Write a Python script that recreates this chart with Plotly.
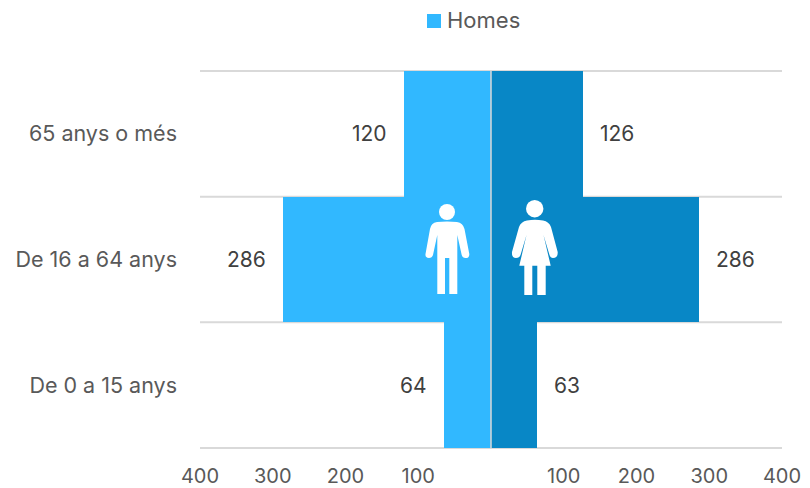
import plotly.graph_objects as go

categories = ["De 0 a 15 anys", "De 16 a 64 anys", "65 anys o més"]
homes = [64, 286, 120]
dones = [63, 286, 126]
tick_vals = [-400, -300, -200, -100, 100, 200, 300, 400]
tick_text = ["400", "300", "200", "100", "100", "200", "300", "400"]
legend_label = "Homes"

W, H = 810, 488
L, R, T, B = 200, 782, 71, 448
FONT = "Inter"
GRID = "#D9D9D9"


def px(x):
    return (x - L) / (R - L)


def py(y):
    return (B - y) / (B - T)


def path(cmds):
    out = []
    for c in cmds:
        nums = c[1:]
        pts = " ".join(f"{px(nums[i]):.5f},{py(nums[i + 1]):.5f}" for i in range(0, len(nums), 2))
        out.append(f"{c[0]} {pts}")
    return " ".join(out) + " Z"


man = [("M", 437, 222), ("Q", 447, 221, 457, 222), ("Q", 463, 223, 464.5, 229), ("L", 469.3, 254),
       ("Q", 469.5, 258, 465.5, 258), ("Q", 462.5, 258, 461.7, 255), ("L", 457.3, 235), ("L", 457.3, 294),
       ("L", 449.3, 294), ("L", 449.3, 258), ("L", 445, 258), ("L", 445, 294), ("L", 437.3, 294),
       ("L", 437.3, 235), ("L", 433, 255), ("Q", 432, 258, 429, 258), ("Q", 425, 258, 425.5, 254),
       ("L", 430, 229), ("Q", 431, 223, 437, 222)]
woman = [("M", 527, 220.5), ("Q", 535, 219, 543, 220.5), ("Q", 549, 221.5, 551, 227), ("L", 557.7, 252),
         ("Q", 558, 258, 553, 258), ("Q", 550.5, 258, 549.5, 255), ("L", 543.5, 235), ("L", 550.7, 265.7),
         ("L", 545.7, 265.7), ("L", 545.7, 295), ("L", 537.3, 295), ("L", 537.3, 265.7), ("L", 532.3, 265.7),
         ("L", 532.3, 295), ("L", 524.3, 295), ("L", 524.3, 265.7), ("L", 519.3, 265.7), ("L", 526.5, 235),
         ("L", 520.5, 255), ("Q", 519.5, 258, 516, 258), ("Q", 511.5, 258, 512, 252), ("L", 519, 227),
         ("Q", 521, 221.5, 527, 220.5)]

fig = go.Figure()
fig.add_trace(go.Bar(y=categories, x=[-v for v in homes], orientation="h", name="Homes", showlegend=False,
                     marker=dict(color="#31B8FF", line_width=0), hoverinfo="skip"))
fig.add_trace(go.Bar(y=categories, x=dones, orientation="h", name="Dones", showlegend=False,
                     marker=dict(color="#0887C6", line_width=0), hoverinfo="skip"))

shapes = []
for i in range(len(categories) + 1):
    shapes.append(dict(type="line", xref="paper", yref="paper", x0=0, x1=1,
                       y0=i / len(categories), y1=i / len(categories),
                       line=dict(color=GRID, width=2), layer="below"))
shapes.append(dict(type="line", xref="x", yref="paper", x0=0, x1=0, y0=0, y1=1,
                   line=dict(color=GRID, width=1.5), layer="above"))
for p in (man, woman):
    shapes.append(dict(type="path", xref="paper", yref="paper", path=path(p),
                       fillcolor="white", line_width=0, layer="above"))
for cx, cy, r in ((447, 212, 8), (534.7, 208.7, 8.7)):
    shapes.append(dict(type="circle", xref="paper", yref="paper", x0=px(cx - r), x1=px(cx + r),
                       y0=py(cy + r), y1=py(cy - r), fillcolor="white", line_width=0, layer="above"))
# legend swatch
shapes.append(dict(type="rect", xref="paper", yref="paper", x0=px(427), x1=px(441), y0=py(28), y1=py(14),
                   fillcolor="#31B8FF", line_width=0))

annotations = []
for c, h, d in zip(categories, homes, dones):
    annotations.append(dict(x=-h, y=c, text=str(h), showarrow=False, xanchor="right", xshift=-15,
                            font=dict(family=FONT, size=21, color="#404040")))
    annotations.append(dict(x=d, y=c, text=str(d), showarrow=False, xanchor="left", xshift=15,
                            font=dict(family=FONT, size=21, color="#404040")))
annotations.append(dict(xref="paper", yref="paper", x=px(445), y=py(20), text=legend_label, showarrow=False,
                        xanchor="left", yanchor="middle", font=dict(family=FONT, size=22, color="#595959")))

fig.update_layout(
    width=W, height=H, barmode="overlay", bargap=0, plot_bgcolor="white", paper_bgcolor="white",
    margin=dict(l=L, r=W - R, t=T, b=H - B, autoexpand=False),
    font=dict(family=FONT, size=20, color="#595959"),
    showlegend=False,
    xaxis=dict(range=[-400, 400], tickvals=tick_vals, ticktext=tick_text, showgrid=False, zeroline=False,
               showline=False, ticks="", ticklabelstandoff=14, tickfont=dict(family=FONT, size=20, color="#595959")),
    yaxis=dict(type="category", categoryorder="array", categoryarray=categories, range=[-0.5, 2.5],
               showgrid=False, zeroline=False, showline=False, ticks="", ticklabelstandoff=22,
               tickfont=dict(family=FONT, size=21.5, color="#595959")),
    shapes=shapes, annotations=annotations,
)
fig.write_html("out.html", config={"displayModeBar": False}, post_script="document.body.style.margin='0';")
